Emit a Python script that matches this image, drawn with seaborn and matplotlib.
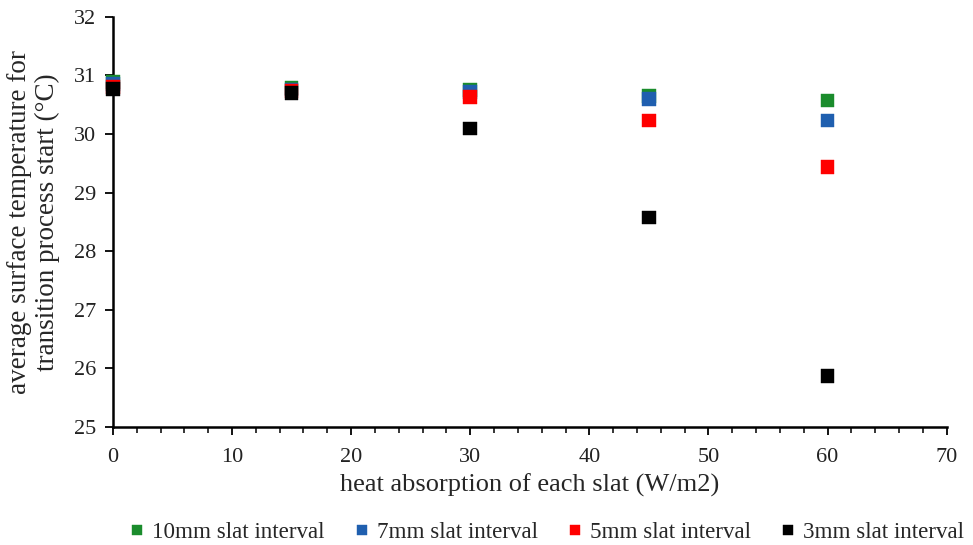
import matplotlib
matplotlib.use("Agg")
import matplotlib.pyplot as plt
from matplotlib.ticker import MultipleLocator
import seaborn as sns
import pandas as pd

heat = [0, 15, 30, 45, 60]
t_10mm = [30.89, 30.79, 30.75, 30.65, 30.57]
t_7mm = [30.85, 30.76, 30.72, 30.60, 30.23]
t_5mm = [30.80, 30.73, 30.63, 30.23, 29.44]
t_3mm = [30.77, 30.70, 30.09, 28.57, 25.87]
series = ["10mm slat interval", "7mm slat interval", "5mm slat interval", "3mm slat interval"]
colors = ["#1a8c2c", "#1f5faf", "#ff0000", "#000000"]

df = pd.DataFrame({
    "heat": heat * 4,
    "temp": t_10mm + t_7mm + t_5mm + t_3mm,
    "series": [s for s in series for _ in heat],
})

sns.set_style("ticks")
plt.rcParams["font.family"] = ["Liberation Serif", "DejaVu Serif"]

fig = plt.figure(figsize=(9.73, 5.45), dpi=100)
ax = fig.add_axes([0.116, 0.217, 0.857, 0.752])

sns.scatterplot(data=df, x="heat", y="temp", hue="series", hue_order=series,
                palette=colors, marker="s", s=95, linewidth=0.3,
                edgecolor="face", ax=ax, zorder=3, clip_on=False)

ax.set_xlim(0, 70)
ax.set_ylim(25, 32)
ax.xaxis.set_major_locator(MultipleLocator(10))
ax.xaxis.set_minor_locator(MultipleLocator(2))
ax.yaxis.set_major_locator(MultipleLocator(1))
ax.tick_params(axis="both", which="major", direction="out", length=6, width=1.3,
               labelsize=16, color="black", labelcolor="#222222", pad=6)
ax.tick_params(axis="x", which="major", pad=9)
ax.tick_params(axis="x", which="minor", direction="out", length=4, width=1.3)
for side in ("top", "right"):
    ax.spines[side].set_visible(False)
for side in ("left", "bottom"):
    ax.spines[side].set_linewidth(1.8)
    ax.spines[side].set_color("black")
    ax.spines[side].set_zorder(2)

ax.set_xlabel("heat absorption of each slat (W/m2)", fontsize=19, labelpad=5)
ax.set_ylabel("average surface temperature for\ntransition process start (°C)",
              fontsize=19.5, labelpad=10, linespacing=1.15)

handles, labels = ax.get_legend_handles_labels()
ax.legend(handles, labels, loc="upper center", bbox_to_anchor=(0.52, -0.22),
          ncol=4, frameon=False, fontsize=16.6, handlelength=0.7,
          handletextpad=0.3, columnspacing=1.25, markerscale=0.8,
          borderpad=0.2, borderaxespad=0.0)

fig.savefig("out.png", dpi=100)
